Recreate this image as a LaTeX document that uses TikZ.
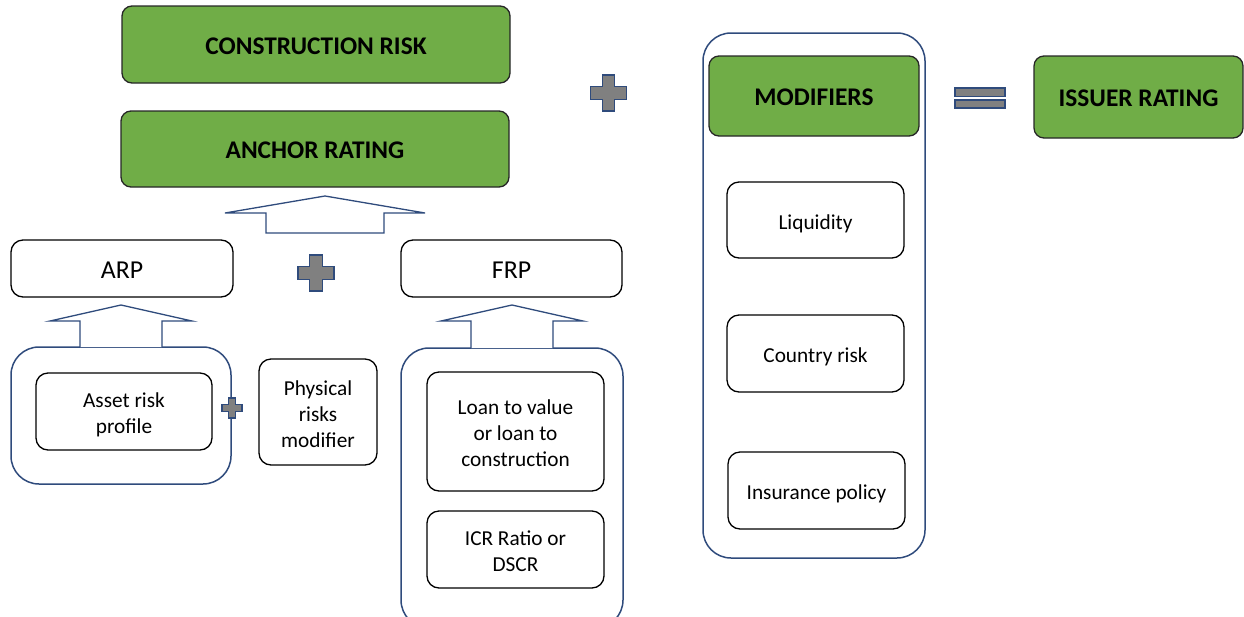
\documentclass[tikz,border=0pt]{standalone}
\usepackage{fontspec}
\setmainfont{Carlito}
\definecolor{gfill}{HTML}{70AD47}
\definecolor{navy}{HTML}{2F4B7C}
\definecolor{opgray}{HTML}{808080}
\newcommand{\tx}[1]{\raisebox{-3.8pt}[\height][\depth]{\begin{tabular}{@{}c@{}}#1\end{tabular}}}
\begin{document}
\begin{tikzpicture}[x=1pt,y=-1pt,
  greenbox/.style={draw=black!85, line width=1.3pt, fill=gfill, rounded corners=10pt, inner sep=0pt,
     font=\bfseries\fontsize{25.4}{30}\selectfont},
  whitebox/.style={draw=black, line width=1.3pt, fill=white, rounded corners=12pt, inner sep=0pt,
     font=\fontsize{21.3}{26}\selectfont},
  bigtext/.style={font=\fontsize{25.8}{30}\selectfont},
  groupbox/.style={draw=navy, line width=1.5pt, rounded corners=28pt, inner sep=0pt},
  blockarrow/.style={draw=navy, fill=white, line width=1.3pt, line join=miter},
  opsign/.style={draw=navy, fill=opgray, line width=1.2pt},
]
\useasboundingbox (0,0) rectangle (1244,616);
\clip (0,0) rectangle (1244,616);
% group boxes
\node[groupbox, minimum width=220pt, minimum height=137pt] (argrp) at (121,415.5) {};
\node[groupbox, minimum width=222pt, minimum height=280pt] (frpgrp) at (512,488) {};
\node[groupbox, minimum width=222pt, minimum height=525pt] (modgrp) at (814,295.5) {};
% green boxes
\node[greenbox, minimum width=388pt, minimum height=77pt] (cr) at (316,44.5) {\tx{CONSTRUCTION RISK}};
\node[greenbox, minimum width=388pt, minimum height=76pt] (anchor) at (315,149) {\tx{ANCHOR RATING}};
\node[greenbox, minimum width=210pt, minimum height=80pt] (mod) at (814,96) {\tx{MODIFIERS}};
\node[greenbox, minimum width=209pt, minimum height=82pt] (issuer) at (1138.5,97) {\tx{ISSUER RATING}};
% white boxes
\node[whitebox, bigtext, minimum width=222pt, minimum height=57pt] (arp) at (122,268.5) {\tx{ARP}};
\node[whitebox, bigtext, minimum width=221pt, minimum height=57pt] (frp) at (511.5,268.5) {\tx{FRP}};
\node[whitebox, minimum width=176pt, minimum height=77pt] (asset) at (124,411.5) {\tx{Asset risk\\profile}};
\node[whitebox, minimum width=118pt, minimum height=106pt] (phys) at (318,412) {\tx{Physical\\risks\\modifier}};
\node[whitebox, minimum width=177pt, minimum height=119pt] (loan) at (515.5,431.5) {\tx{Loan to value\\or loan to\\construction}};
\node[whitebox, minimum width=177pt, minimum height=77pt] (icr) at (515.5,549.5) {\tx{ICR Ratio or\\DSCR}};
\node[whitebox, minimum width=177pt, minimum height=76pt] (liq) at (815.5,220) {\tx{Liquidity}};
\node[whitebox, minimum width=177pt, minimum height=77pt] (country) at (815.5,353.5) {\tx{Country risk}};
\node[whitebox, minimum width=177pt, minimum height=77pt] (ins) at (816.5,490.5) {\tx{Insurance policy}};
% block arrows
\draw[blockarrow] (266,233) -- (266,213) -- (225,213) -- (325,196) -- (425,213) -- (384,213) -- (384,233) -- cycle;
\draw[blockarrow] (80,347) -- (80,321) -- (50,321) -- (121,305) -- (192,321) -- (162,321) -- (162,347);
\draw[blockarrow] (471,348) -- (471,321) -- (441,321) -- (512,305) -- (583,321) -- (553,321) -- (553,348);
% plus signs
\newcommand{\plussign}[4]{% x y total arm
  \draw[opsign] ({#1-#4/2},{#2-#3/2}) -- ({#1+#4/2},{#2-#3/2}) -- ({#1+#4/2},{#2-#4/2}) -- ({#1+#3/2},{#2-#4/2})
    -- ({#1+#3/2},{#2+#4/2}) -- ({#1+#4/2},{#2+#4/2}) -- ({#1+#4/2},{#2+#3/2}) -- ({#1-#4/2},{#2+#3/2})
    -- ({#1-#4/2},{#2+#4/2}) -- ({#1-#3/2},{#2+#4/2}) -- ({#1-#3/2},{#2-#4/2}) -- ({#1-#4/2},{#2-#4/2}) -- cycle;}
\plussign{316}{273}{36}{12.5}
\plussign{608.5}{93}{36}{12.5}
\plussign{232}{408}{20}{7}
% equals sign
\draw[opsign] (955,88) rectangle (1005,96.5);
\draw[opsign] (955,100) rectangle (1005,108);
\end{tikzpicture}
\end{document}
